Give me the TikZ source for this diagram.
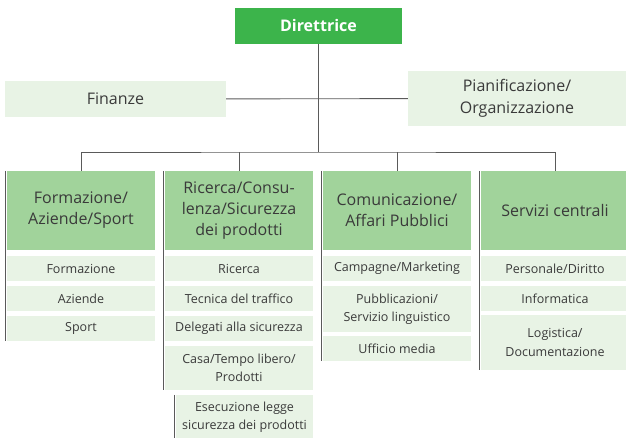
\documentclass[tikz,border=0pt]{standalone}
\usepackage{fontspec}
\setmainfont{Open Sans}
\usepackage{xcolor}
\usetikzlibrary{positioning}
\definecolor{dirgreen}{HTML}{3CB44B}
\definecolor{headgreen}{HTML}{A1D39B}
\definecolor{palegreen}{HTML}{E8F3E5}
\definecolor{txtgrey}{HTML}{3A3A3A}
\definecolor{lingrey}{HTML}{5A5A5A}
\begin{document}
\begin{tikzpicture}[x=1pt,y=-1pt,
  every node/.style={inner sep=0pt,align=center,text=txtgrey},
  boss/.style={fill=dirgreen,text=white,minimum width=167pt,minimum height=35.5pt,font=\fontsize{16}{19}\selectfont\bfseries},
  staff/.style={fill=palegreen,font=\fontsize{16}{21.5}\selectfont},
  head/.style={fill=headgreen,minimum width=148pt,minimum height=79pt,font=\fontsize{16}{21}\selectfont},
  unit/.style={fill=palegreen,minimum width=148pt,minimum height=25pt,font=\fontsize{12.5}{18.5}\selectfont},
  rib/.style={draw=lingrey,line width=1.3pt},
  conn/.style={draw=lingrey,line width=0.9pt}]
\useasboundingbox (0,0) rectangle (626,437);
\node[boss] (D) at (318.5,25.75) {Direttrice};
\node[staff,minimum width=221pt,minimum height=36pt] (F) at (115.5,99) {Finanze};
\node[staff,minimum width=218pt,minimum height=55pt] (P) at (517,98.5) {Pianificazione/\\Organizzazione};
\coordinate (bus) at (318.5,152);
\node[head] (H1) at (81,210.5) {Formazione/\\Aziende/Sport};
\node[head] (H2) at (239,210.5) {Ricerca/Consu-\\lenza/Sicurezza\\dei prodotti};
\node[head] (H3) at (397,210.5) {Comunicazione/\\Affari Pubblici};
\node[head] (H4) at (555,210.5) {Servizi centrali};
\node[unit] (A1) at (81,268.5) {Formazione};
\node[unit] (A2) at (81,298.5) {Aziende};
\node[unit] (A3) at (81,328.5) {Sport};
\node[unit] (B1) at (239,268.5) {Ricerca};
\node[unit] (B2) at (239,298.5) {Tecnica del traffico};
\node[unit] (B3) at (239,328.5) {Delegati alla sicurezza};
\node[unit,minimum height=44pt] (B4) at (239,368) {Casa/Tempo libero/\\Prodotti};
\node[unit,minimum width=137pt,minimum height=44pt] (B5) at (244.5,417) {Esecuzione legge\\sicurezza dei prodotti};
\node[unit] (C1) at (397,268.5) {Campagne/Marketing};
\node[unit,minimum height=46pt] (C2) at (397,309) {Pubblicazioni/\\Servizio linguistico};
\node[unit] (C3) at (397,348.5) {Ufficio media};
\node[unit] (E1) at (555,268.5) {Personale/Diritto};
\node[unit] (E2) at (555,298.5) {Informatica};
\node[unit,minimum height=55pt] (E3) at (555,342.5) {Logistica/\\Documentazione};
\draw[conn] (D) -- (bus);
\draw[conn] (F) -- (P);
\draw[conn] (H1.north) |- (bus) -| (H4.north);
\draw[conn] (H2.north) -- (H2.north |- bus);
\draw[conn] (H3.north) -- (H3.north |- bus);
\draw[rib] ([xshift=-1.5pt]H1.north west) -- ([xshift=-1.5pt]A3.south west);
\draw[rib] ([xshift=-1.5pt]H2.north west) -- ([xshift=-1.5pt]B4.south west);
\draw[rib] ([xshift=-1.2pt]B5.north west) -- ([xshift=-1.2pt]B5.south west);
\draw[rib] ([xshift=-1.5pt]H3.north west) -- ([xshift=-1.5pt]C3.south west);
\draw[rib] ([xshift=-1.5pt]H4.north west) -- ([xshift=-1.5pt]E3.south west);
\end{tikzpicture}
\end{document}
